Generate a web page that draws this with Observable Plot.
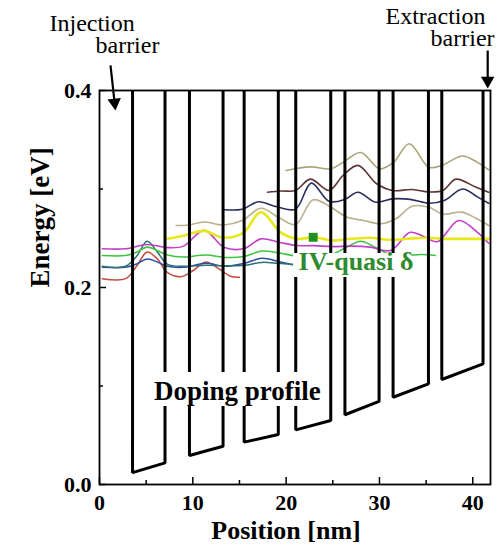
<!DOCTYPE html>
<html><head><meta charset="utf-8">
<script src="https://cdn.jsdelivr.net/npm/d3@7"></script>
<script src="https://cdn.jsdelivr.net/npm/@observablehq/plot@0.6"></script>
<style>body{margin:0;background:#fff}#chart{width:501px;height:545px}</style>
</head><body><div id="chart"></div>
<script>
// ---- axes ----
const xDomain = [0, 41.9];
const yDomain = [0, 0.4];
const xTicksMajor = [0, 10, 20, 30, 40];
const xTicksMinor = [5, 15, 25, 35];
const yTicksMajor = [0, 0.2, 0.4];
const yTicksMinor = [0.1, 0.3];
const xLabel = "Position [nm]";
const yLabel = "Energy [eV]";

// ---- conduction band profile: wells [left x, right x, left energy, right energy] ----
const barrierTop = 0.43;
const wellLeft   = [3.54, 9.64, 15.5, 21.03, 26.3, 31.46, 36.68];
const wellRight  = [7.02, 13.24, 19.16, 24.78, 29.96, 35.25, 41.1];
const wellBotL   = [0.012, 0.0294, 0.043, 0.0555, 0.0708, 0.0886, 0.1066];
const wellBotR   = [0.022, 0.0389, 0.0508, 0.065, 0.0843, 0.1022, 0.1225];

// ---- wavefunction states: [position nm, energy eV] ----
const redState = [[0.3,0.209],[2.8,0.209],[4.0,0.222],[5.1,0.236],[6.2,0.229],[7.3,0.215],[8.7,0.211],[10.0,0.217],[11.4,0.226],[12.8,0.219],[14.0,0.2115],[15.0,0.2105]];
const blueState = [[0.3,0.2205],[2.8,0.2205],[4.0,0.224],[5.1,0.229],[6.3,0.2255],[7.3,0.2215],[9.0,0.2205],[11.4,0.2245],[13.5,0.2215],[15.5,0.2245],[17.4,0.2297],[19.2,0.2265],[21.0,0.2225],[23.0,0.222],[24.5,0.222]];
const tealState = [[0.3,0.2215],[2.8,0.2215],[4.0,0.232],[5.1,0.247],[6.2,0.236],[7.3,0.2235],[9.0,0.2215],[11.4,0.2225],[13.5,0.222],[15.5,0.2225],[17.4,0.2255],[19.2,0.2245],[21.0,0.2235],[23.0,0.223],[24.5,0.223]];
const greenState = [[0.3,0.2325],[2.8,0.2325],[4.0,0.236],[5.1,0.241],[6.3,0.237],[7.3,0.233],[9.0,0.231],[11.4,0.233],[13.5,0.2305],[15.5,0.2315],[17.4,0.237],[19.3,0.235],[21.0,0.232],[23.0,0.2315],[25.0,0.234],[26.5,0.241],[28.0,0.247],[29.5,0.241],[31.0,0.234],[32.8,0.2325],[34.5,0.2335],[36.0,0.2325]];
const magentaState = [[0.3,0.2393],[2.8,0.2393],[5.1,0.2437],[7.3,0.2405],[9.0,0.242],[11.2,0.258],[13.4,0.2405],[15.5,0.2395],[17.3,0.2494],[19.2,0.246],[21.2,0.2426],[23.0,0.2425],[25.0,0.2415],[27.0,0.242],[29.0,0.241],[31.2,0.2376],[33.3,0.256],[34.8,0.2515],[36.2,0.2465],[38.5,0.268],[40.5,0.256],[41.7,0.245]];
const yellowState = [[7.3,0.2494],[9.0,0.2525],[11.2,0.2575],[13.3,0.2505],[15.4,0.2555],[17.3,0.2764],[19.4,0.256],[21.2,0.2494],[23.0,0.251],[25.0,0.2477],[27.0,0.2495],[29.0,0.2505],[31.0,0.2485],[33.0,0.2495],[35.0,0.2505],[37.0,0.2494],[39.0,0.2494],[41.7,0.2494]];
const tanState = [[8.2,0.263],[9.6,0.2635],[11.2,0.2665],[13.3,0.2635],[15.3,0.268],[17.3,0.2805],[19.3,0.2705],[21.0,0.264],[22.9,0.289],[24.8,0.2815],[26.5,0.2715],[28.3,0.268],[30.2,0.2647],[31.8,0.27],[33.5,0.2825],[35.3,0.2815],[36.8,0.2745],[38.8,0.2765],[40.3,0.2705],[41.7,0.263]];
const navyState = [[13.4,0.279],[15.3,0.2795],[17.0,0.287],[19.0,0.282],[21.0,0.2795],[22.7,0.306],[24.6,0.2875],[26.3,0.2895],[27.7,0.2967],[29.6,0.2866],[31.4,0.29],[33.3,0.2895],[35.4,0.2855],[37.0,0.2885],[38.9,0.300],[40.5,0.292],[41.7,0.2855]];
const maroonState = [[18.0,0.2967],[19.5,0.298],[21.0,0.2985],[22.6,0.310],[24.6,0.2985],[26.1,0.3137],[27.7,0.324],[29.7,0.3053],[31.4,0.2985],[33.5,0.2995],[35.3,0.297],[36.8,0.2985],[38.2,0.310],[40.3,0.302],[41.7,0.2967]];
const oliveState = [[20.0,0.3188],[22.6,0.3225],[24.8,0.3205],[26.1,0.327],[28.0,0.337],[30.0,0.3205],[31.5,0.327],[33.2,0.346],[35.3,0.322],[36.7,0.324],[38.9,0.3335],[40.5,0.327],[41.7,0.3195]];

const stateNames  = ["red","blue","teal","green","magenta","yellow","tan","navy","maroon","olive"];
const stateColors = ["#c24a3c","#2c4fa6","#2f7272","#3ec43e","#c43ec8","#e8e81c","#bab08a","#2b2e5e","#5e3434","#a8a478"];
const stateWidths = [1.5,1.5,1.5,1.6,1.6,2.6,1.6,1.6,1.6,1.6];

// ---- annotations ----
const quasiDelta = [{x: 22.9, y: 0.251}];
const topTexts = [
  {text: "Injection", x: -5.36, y: 0.4687},
  {text: "barrier", x: -0.43, y: 0.4454},
  {text: "Extraction", x: 30.65, y: 0.4758},
  {text: "barrier", x: 35.48, y: 0.4525}
];
const arrowShafts = [
  {x1: 1.18, y1: 0.4254, x2: 1.62, y2: 0.3876},
  {x1: 41.6, y1: 0.4406, x2: 41.6, y2: 0.41}
];
const arrowHeads = [
  {x: 1.62, y: 0.3876, rotate: 173.7},
  {x: 41.6, y: 0.41, rotate: 180}
];
const labelBoxes = [
  {x1: 5.3, x2: 24.3, y1: 0.0792, y2: 0.1137},
  {x1: 20.8, x2: 33.5, y1: 0.2102, y2: 0.2345}
];
const dopingLabel = [{text: "Doping profile", x: 14.78, y: 0.095}];
const deltaLabel = [{text: "IV-quasi δ", x: 21.33, y: 0.2267}];

// ---- build tables ----
const profile = [{x: 0, y: barrierTop}];
wellLeft.forEach((xl, i) => {
  profile.push({x: xl, y: barrierTop}, {x: xl, y: wellBotL[i]}, {x: wellRight[i], y: wellBotR[i]}, {x: wellRight[i], y: barrierTop});
});
profile.push({x: xDomain[1], y: barrierTop});

const stateArrays = [redState, blueState, tealState, greenState, magentaState, yellowState, tanState, navyState, maroonState, oliveState];
const states = stateArrays.flatMap((arr, i) => arr.map(([x, y]) => ({x, y, state: stateNames[i]})));

const W = 501, H = 545, mL = 99, mR = 11, mT = 90, mB = 61;
const plotW = W - mL - mR, plotH = H - mT - mB;
const serif = "'Liberation Serif','Times New Roman',serif";

const chart = Plot.plot({
  width: W, height: H,
  marginLeft: mL, marginRight: mR, marginTop: mT, marginBottom: mB,
  style: {fontFamily: serif, fontSize: "22px", fontWeight: "bold", color: "black", background: "white", overflow: "visible"},
  x: {domain: xDomain, ticks: xTicksMajor, tickSize: 0, tickPadding: 10, tickFormat: "d", label: null},
  y: {domain: yDomain, ticks: yTicksMajor, tickSize: 0, tickPadding: 8, tickFormat: ".1f", label: null},
  marks: [
    ...stateNames.map((name, i) => Plot.line(states.filter(d => d.state === name), {x: "x", y: "y", stroke: stateColors[i], strokeWidth: stateWidths[i], curve: "catmull-rom"})),
    Plot.line(profile, {x: "x", y: "y", stroke: "black", strokeWidth: 3, strokeLinejoin: "miter", clip: true}),
    Plot.rect(labelBoxes, {x1: "x1", x2: "x2", y1: "y1", y2: "y2", fill: "white"}),
    Plot.frame({stroke: "black", strokeWidth: 1.8}),
    Plot.ruleX(xTicksMajor, {x: d => d, insetTop: plotH - 7, stroke: "black", strokeWidth: 1.5}),
    Plot.ruleX(xTicksMinor, {x: d => d, insetTop: plotH - 4, stroke: "black", strokeWidth: 1.5}),
    Plot.ruleY(yTicksMajor, {y: d => d, insetRight: plotW - 7, stroke: "black", strokeWidth: 1.5}),
    Plot.ruleY(yTicksMinor, {y: d => d, insetRight: plotW - 4, stroke: "black", strokeWidth: 1.5}),
    Plot.dot(quasiDelta, {x: "x", y: "y", symbol: "square", r: 5, fill: "#1f8f1f", stroke: null}),
    Plot.text(dopingLabel, {x: "x", y: "y", text: "text", fill: "black", textAnchor: "middle", fontSize: 27, fontWeight: "bold", fontFamily: serif, lineAnchor: "middle"}),
    Plot.text(deltaLabel, {x: "x", y: "y", text: "text", fill: "#2e8b2e", textAnchor: "start", fontSize: 26, fontWeight: "bold", fontFamily: serif, lineAnchor: "middle"}),
    Plot.text(topTexts, {x: "x", y: "y", text: "text", textAnchor: "start", fontSize: 24, fontWeight: "normal", fontFamily: serif, lineAnchor: "middle", fill: "black"}),
    Plot.link(arrowShafts, {x1: "x1", y1: "y1", x2: "x2", y2: "y2", stroke: "black", strokeWidth: 2.2}),
    Plot.dot(arrowHeads, {x: "x", y: "y", rotate: "rotate", symbol: "triangle", r: 5, fill: "black", stroke: null}),
    Plot.text([xLabel], {frameAnchor: "bottom", dx: -9, dy: 46, fontSize: 26, fontWeight: "bold", fontFamily: serif, lineAnchor: "middle"}),
    Plot.text([yLabel], {frameAnchor: "left", dx: -59, rotate: -90, fontSize: 27, fontWeight: "bold", fontFamily: serif, lineAnchor: "middle"})
  ]
});
document.getElementById("chart").append(chart);
</script>
</body></html>
